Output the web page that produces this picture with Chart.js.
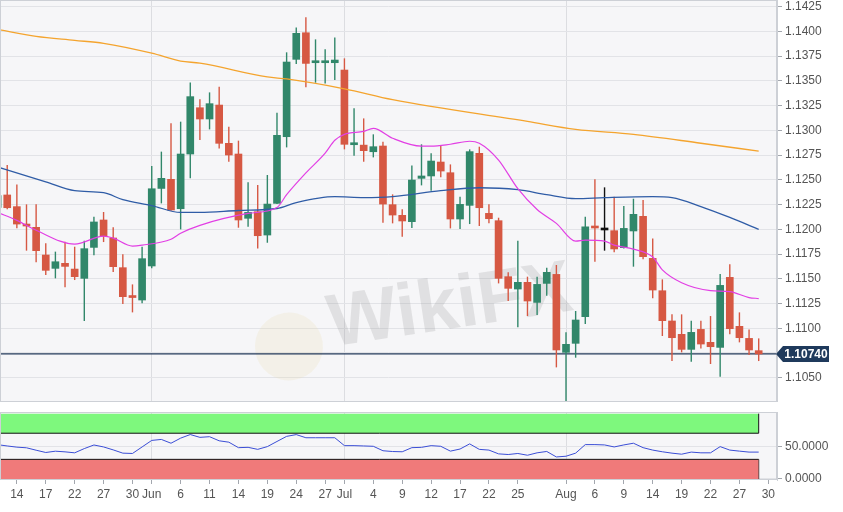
<!DOCTYPE html>
<html>
<head>
<meta charset="utf-8">
<title>EUR/USD daily</title>
<script src="https://cdn.jsdelivr.net/npm/chart.js@4.4.1/dist/chart.umd.min.js"></script>
<style>
  html, body { margin: 0; padding: 0; background: #fff; }
  #wrap { position: relative; width: 843px; height: 512px; overflow: hidden; }
  #main { position: absolute; left: 0; top: 0; }
  #osc { position: absolute; left: 0; top: 410px; }
</style>
</head>
<body>
<div id="wrap">
  <canvas id="main" width="843" height="402"></canvas>
  <canvas id="osc" width="843" height="102"></canvas>
</div>
<script>
// Trading days shown on the chart (first one is only half visible at the left edge).
var dates = ['May 10','May 13','May 14','May 15','May 16','May 17','May 20','May 21','May 22','May 23','May 24','May 27','May 28','May 29','May 30','May 31',
  'Jun 3','Jun 4','Jun 5','Jun 6','Jun 7','Jun 10','Jun 11','Jun 12','Jun 13','Jun 14','Jun 17','Jun 18','Jun 19','Jun 20','Jun 21','Jun 24','Jun 25','Jun 26','Jun 27','Jun 28',
  'Jul 1','Jul 2','Jul 3','Jul 4','Jul 5','Jul 8','Jul 9','Jul 10','Jul 11','Jul 12','Jul 15','Jul 16','Jul 17','Jul 18','Jul 19','Jul 22','Jul 23','Jul 24','Jul 25','Jul 26','Jul 29','Jul 30','Jul 31',
  'Aug 1','Aug 2','Aug 5','Aug 6','Aug 7','Aug 8','Aug 9','Aug 12','Aug 13','Aug 14','Aug 15','Aug 16','Aug 19','Aug 20','Aug 21','Aug 22','Aug 23','Aug 26','Aug 27','Aug 28','Aug 29','Aug 30'];

// Daily OHLC (Aug 30 has no candle yet).
var open = [1.1222,1.12347,1.12229,1.12047,1.12020,1.11740,1.11605,1.11656,1.11598,1.11504,1.11817,1.12094,1.11912,1.11612,1.11326,1.11285,
  1.11629,1.12413,1.12505,1.12208,1.12761,1.13229,1.13115,1.13256,1.12869,1.12761,1.12111,1.12178,1.11942,1.12262,1.12936,1.13718,1.13987,1.13684,1.13684,1.13684,
  1.13610,1.12855,1.12851,1.12784,1.12842,1.12249,1.12141,1.12077,1.12515,1.12539,1.12680,1.12572,1.12104,1.12242,1.12768,1.12161,1.12087,1.11521,1.11396,1.11464,1.11261,1.11453,1.11544,
  1.10756,1.10847,1.11116,1.12026,1.11993,1.11986,1.11814,1.11983,1.12131,1.11706,1.11379,1.11073,1.10938,1.10786,1.10988,1.10857,1.10806,1.11514,1.11019,1.10897,1.10773];
var high = [1.1240,1.12650,1.12454,1.12252,1.12252,1.11858,1.11774,1.11874,1.11824,1.11885,1.12127,1.12175,1.12020,1.11747,1.11443,1.11824,
  1.12640,1.12785,1.13071,1.13088,1.13485,1.13314,1.13384,1.13442,1.13037,1.12896,1.12475,1.12447,1.12549,1.13179,1.13789,1.14041,1.14143,1.13920,1.13819,1.13940,
  1.13728,1.13223,1.13121,1.12960,1.12886,1.12353,1.12202,1.12646,1.12859,1.12768,1.12852,1.12656,1.12330,1.12808,1.12835,1.12252,1.12117,1.11565,1.11885,1.11521,1.11521,1.11612,1.11639,
  1.10958,1.11174,1.12127,1.12505,1.12424,1.12330,1.12235,1.12309,1.12296,1.11908,1.11494,1.11140,1.11140,1.11076,1.11076,1.11123,1.11548,1.11646,1.11160,1.10988,1.10897];
var low = [1.1215,1.12202,1.12010,1.11784,1.11666,1.11538,1.11504,1.11413,1.11487,1.11073,1.11737,1.11871,1.11568,1.11245,1.11160,1.11252,
  1.11605,1.12262,1.12188,1.11999,1.12515,1.12902,1.13010,1.12818,1.12683,1.12016,1.12026,1.11807,1.11864,1.12255,1.12828,1.13671,1.13435,1.13482,1.13475,1.13509,
  1.12808,1.12744,1.12683,1.12727,1.12067,1.12060,1.11925,1.12013,1.12444,1.12390,1.12525,1.12009,1.12003,1.12053,1.12033,1.12060,1.11453,1.11275,1.11009,1.11123,1.11133,1.11329,1.10604,
  1.10257,1.10702,1.11042,1.11672,1.11784,1.11767,1.11807,1.11622,1.11696,1.11302,1.10921,1.10668,1.10756,1.10662,1.10796,1.10638,1.10510,1.10938,1.10857,1.10729,1.10668];
var close = [1.1234,1.12218,1.12053,1.12033,1.11784,1.11585,1.11672,1.11625,1.11521,1.11804,1.12074,1.11932,1.11622,1.11319,1.11310,1.11703,
  1.12410,1.12515,1.12195,1.12761,1.13341,1.13115,1.13270,1.12869,1.12751,1.12094,1.12171,1.11935,1.12255,1.12950,1.13691,1.13981,1.13677,1.13701,1.13691,1.13711,
  1.12859,1.12868,1.12795,1.12835,1.12255,1.12144,1.12084,1.12498,1.12539,1.12690,1.12589,1.12104,1.12252,1.12785,1.12218,1.12107,1.11504,1.11403,1.11464,1.11275,1.11443,1.11565,1.10780,
  1.10837,1.11083,1.12026,1.12013,1.11993,1.11801,1.12009,1.12151,1.11723,1.11386,1.11076,1.10904,1.10786,1.10958,1.10840,1.10813,1.11433,1.10995,1.10904,1.10780,1.10740];
var lastPrice = 1.10740;

// Moving averages, sampled at these day positions (index into dates).
var ma200Day = [0,4,8,11,16,19,21,28,30,36,41,55,60,66,73,79];
var ma200 = [1.1402,1.1395,1.1391,1.1388,1.1378,1.1370,1.1368,1.1354,1.1352,1.1342,1.1331,1.1309,1.1301,1.1296,1.1287,1.1279];
var ma100Day = [0,5,8,11,13,16,19,21,25,29,31,35,38,41,46,50,54,57,60,63,68,70,73,76,79];
var ma100 = [1.1263,1.1248,1.1239,1.1237,1.1230,1.1224,1.1217,1.1217,1.1219,1.1221,1.1227,1.1233,1.1232,1.1233,1.1239,1.1242,1.1240,1.1235,1.1231,1.1232,1.1233,1.1232,1.1223,1.1212,1.1200];
var ma20Day = [0,2,4,8,11,12,14,15,18,19,21,26,29,30,32,34,35,36,38,39,41,44,45,47,49,50,52,54,56,58,60,61,63,64,66,68,69,71,74,76,78,79];
var ma20 = [1.1217,1.1209,1.1199,1.1185,1.1193,1.1191,1.1183,1.1184,1.1190,1.1196,1.1204,1.1216,1.1222,1.1235,1.1257,1.1277,1.1290,1.1296,1.1299,1.1302,1.1292,1.1284,1.1284,1.1286,1.1289,1.1287,1.1270,1.1241,1.1220,1.1206,1.1188,1.1189,1.1188,1.1184,1.1180,1.1172,1.1159,1.1146,1.1138,1.1137,1.1131,1.1130];

// RSI per day.
var rsi = [52.5,50.5,48.7,47.7,44,40.5,42.5,41.5,40,46.5,52,49,44.5,39.5,39,49,59,60.5,54.7,62.5,
  68,63.7,64.7,58.4,56.3,47.9,48.4,45.3,49.5,57.4,65.2,67.9,63.1,63.1,63.1,63.1,51,51,50.5,50,
  43.2,42,41.6,47.9,48.4,51,50,42.6,45.8,53.7,45.3,44.2,38.4,37.4,39,36.3,40,42.1,33.7,34.8,
  39.5,52.6,52.6,52.1,49,52.1,54.7,47.9,44.2,41.6,39.5,37.9,41.1,40,40,49.5,44.2,42.6,41.1,41.1];
var rsiBands = [30, 70, 100];

// Axis ticks.
var priceTicks = [1.1050,1.1075,1.1100,1.1125,1.1150,1.1175,1.1200,1.1225,1.1250,1.1275,1.1300,1.1325,1.1350,1.1375,1.1400,1.1425];
var rsiTicks = [0, 50];
var tickDates = ['May 14','May 17','May 22','May 27','May 30','Jun 3','Jun 6','Jun 11','Jun 14','Jun 19','Jun 24','Jun 27',
  'Jul 1','Jul 4','Jul 9','Jul 12','Jul 17','Jul 22','Jul 25','Aug 1','Aug 6','Aug 9','Aug 14','Aug 19','Aug 22','Aug 27','Aug 30'];
var tickLabels = ['14','17','22','27','30','Jun','6','11','14','19','24','27','Jul','4','9','12','17','22','25','Aug','6','9','14','19','22','27','30'];
var monthStarts = ['Jun 3','Jul 1','Aug 1'];

var FONT = "'Liberation Sans', Arial, Helvetica, sans-serif";
var UP = '#31876a', DOWN = '#d65843', FLAT = '#111111';
var PLOT_BG = '#f6f6f8', GRID = '#e2e3e7', EDGE = '#cdd0d6';
var X_MIN = 0.25, X_MAX = 80.9;
Chart.defaults.font.family = FONT;

function pts(days, vals) {
  return days.map(function (d, i) { return { x: d, y: vals[i] }; });
}
var monthIdx = monthStarts.map(function (d) { return dates.indexOf(d); });

var bodies = [], wicks = [], colors = [];
for (var i = 0; i < open.length; i++) {
  bodies.push({ x: i, y: [open[i], close[i]] });
  wicks.push({ x: i, y: [low[i], high[i]] });
  colors.push(close[i] > open[i] ? UP : (close[i] < open[i] ? DOWN : FLAT));
}
var lastDay = open.length - 1;

// Plot background and frame.
var panelPlugin = {
  id: 'panel',
  beforeDraw: function (chart) {
    var a = chart.chartArea, c = chart.ctx;
    c.save(); c.fillStyle = PLOT_BG; c.fillRect(a.left, a.top, a.right - a.left, a.bottom - a.top); c.restore();
  },
  afterDraw: function (chart) {
    var a = chart.chartArea, c = chart.ctx;
    c.save(); c.strokeStyle = EDGE; c.lineWidth = 1;
    c.strokeRect(a.left + 0.5, a.top + 0.5, a.right - a.left - 1, a.bottom - a.top - 1);
    c.restore();
  }
};

// Faint watermark behind the candles.
var markPlugin = {
  id: 'mark',
  beforeDatasetsDraw: function (chart) {
    var c = chart.ctx;
    c.save();
    c.translate(450, 308); c.rotate(-0.15);
    c.fillStyle = 'rgba(140,140,140,0.2)';
    c.font = 'bold 74px ' + FONT;
    c.textAlign = 'center'; c.textBaseline = 'middle';
    c.fillText('WikiFX', 0, 0);
    c.fillStyle = 'rgba(235,215,160,0.18)';
    c.beginPath(); c.arc(-165, 14, 34, 0, Math.PI * 2); c.fill();
    c.restore();
  }
};

// Last-price marker on the right axis.
var pricePlugin = {
  id: 'lastPrice',
  afterDraw: function (chart) {
    var c = chart.ctx, y = Math.round(chart.scales.y.getPixelForValue(lastPrice)), x = chart.chartArea.right - 1;
    c.save();
    c.fillStyle = '#1f3a5c';
    c.beginPath();
    c.moveTo(x, y); c.lineTo(x + 7, y - 8); c.lineTo(x + 53, y - 8); c.lineTo(x + 53, y + 8); c.lineTo(x + 7, y + 8);
    c.closePath(); c.fill();
    c.fillStyle = '#fff'; c.font = 'bold 12px ' + FONT;
    c.textAlign = 'center'; c.textBaseline = 'middle';
    c.fillText(lastPrice.toFixed(5), x + 30, y + 1);
    c.restore();
  }
};

function rightAxis(extra) {
  var ax = {
    type: 'linear', position: 'right',
    grid: { color: GRID, tickColor: '#a3a7ae', tickLength: 5 },
    border: { color: EDGE },
    ticks: { color: '#555', font: { size: 12, family: FONT }, padding: 3 },
    afterFit: function (s) { s.width = 66; s.paddingTop = 0; s.paddingBottom = 0; }
  };
  for (var k in extra) ax[k] = extra[k];
  return ax;
}

new Chart(document.getElementById('main'), {
  type: 'bar',
  data: {
    datasets: [
      { type: 'line', data: pts(ma20Day, ma20), borderColor: '#e23fe4', borderWidth: 1.2, pointRadius: 0, cubicInterpolationMode: 'monotone', order: 1 },
      { type: 'line', data: pts(ma100Day, ma100), borderColor: '#2f5ca6', borderWidth: 1.3, pointRadius: 0, cubicInterpolationMode: 'monotone', order: 1 },
      { type: 'line', data: pts(ma200Day, ma200), borderColor: '#f4a42e', borderWidth: 1.3, pointRadius: 0, cubicInterpolationMode: 'monotone', order: 1 },
      { data: bodies, backgroundColor: colors, barThickness: 7, minBarLength: 2, grouped: false, borderWidth: 0, order: 2 },
      { data: wicks, backgroundColor: colors, barThickness: 1.4, grouped: false, borderWidth: 0, inflateAmount: 0, order: 3 },
      { type: 'line', data: [{ x: X_MIN, y: lastPrice }, { x: X_MAX, y: lastPrice }], borderColor: '#22395a', borderWidth: 1.2, pointRadius: 0, order: 4 }
    ]
  },
  options: {
    responsive: false, animation: false,
    layout: { padding: 0 },
    plugins: { legend: { display: false }, tooltip: { enabled: false } },
    scales: {
      x: {
        type: 'linear', min: X_MIN, max: X_MAX, offset: false,
        grid: { offset: false, color: '#dcdde1', drawTicks: false },
        border: { display: false },
        ticks: { display: false },
        afterBuildTicks: function (s) { s.ticks = monthIdx.map(function (v) { return { value: v }; }); },
        afterFit: function (s) { s.height = 0; s.paddingLeft = 0; s.paddingRight = 0; }
      },
      y: rightAxis({
        min: 1.10254, max: 1.14318,
        afterBuildTicks: function (s) { s.ticks = priceTicks.map(function (v) { return { value: v }; }); },
        ticks: { color: '#555', font: { size: 12, family: FONT }, padding: 3, callback: function (v) { return v.toFixed(4); } }
      })
    }
  },
  plugins: [panelPlugin, markPlugin, pricePlugin]
});

function bandLine(v) { return [{ x: X_MIN, y: v }, { x: lastDay, y: v }]; }
var RSI_MIN = -1.6, RSI_MAX = 102.5;

new Chart(document.getElementById('osc'), {
  type: 'line',
  data: {
    datasets: [
      { data: rsi.map(function (v, i) { return { x: i, y: v }; }), borderColor: '#3b4ed6', borderWidth: 1, pointRadius: 0, order: 0 },
      { data: bandLine(rsiBands[2]), borderWidth: 0, pointRadius: 0, backgroundColor: '#7ef87d', fill: '+1', order: 2 },
      { data: bandLine(rsiBands[1]), borderColor: '#111', borderWidth: 1, pointRadius: 0, order: 1 },
      { data: bandLine(rsiBands[0]), borderColor: '#111', borderWidth: 1, pointRadius: 0, backgroundColor: '#f07a7a', fill: 'start', order: 1 },
      { data: [{ x: lastDay, y: rsiBands[1] }, { x: lastDay, y: rsiBands[2] }], borderColor: '#111', borderWidth: 1, pointRadius: 0, order: 1 },
      { data: [{ x: lastDay, y: RSI_MIN }, { x: lastDay, y: rsiBands[0] }], borderColor: '#111', borderWidth: 1, pointRadius: 0, order: 1 }
    ]
  },
  options: {
    responsive: false, animation: false,
    layout: { padding: { top: 2, left: 0, right: 0, bottom: 0 } },
    plugins: { legend: { display: false }, tooltip: { enabled: false } },
    scales: {
      x: {
        type: 'linear', min: X_MIN, max: X_MAX, offset: false,
        grid: {
          offset: false, tickLength: 4, tickColor: '#a3a7ae',
          color: function (ctx) { return ctx.tick && monthIdx.indexOf(ctx.tick.value) >= 0 ? '#dcdde1' : 'rgba(0,0,0,0)'; }
        },
        border: { display: false },
        ticks: {
          autoSkip: false, maxRotation: 0, color: '#555', font: { size: 12, family: FONT }, padding: 3,
          callback: function (v, i) { return tickLabels[i]; }
        },
        afterBuildTicks: function (s) { s.ticks = tickDates.map(function (d) { return { value: dates.indexOf(d) }; }); },
        afterFit: function (s) { s.height = 32; s.paddingLeft = 0; s.paddingRight = 0; }
      },
      y: rightAxis({
        min: RSI_MIN, max: RSI_MAX,
        afterBuildTicks: function (s) { s.ticks = rsiTicks.map(function (v) { return { value: v }; }); },
        ticks: { color: '#555', font: { size: 12, family: FONT }, padding: 3, callback: function (v) { return v.toFixed(4); } }
      })
    }
  },
  plugins: [panelPlugin]
});
</script>
</body>
</html>
